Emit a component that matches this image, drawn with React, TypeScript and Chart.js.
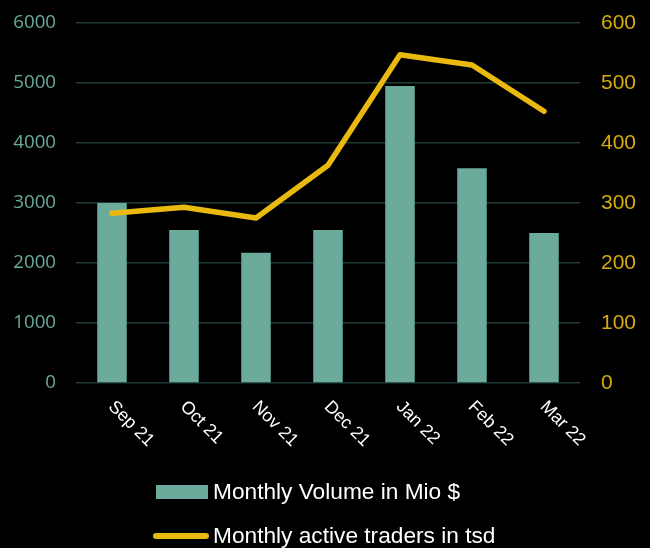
import React, { useEffect, useRef } from 'react';
import { Chart, registerables } from 'chart.js';

Chart.register(...registerables);

const categories = ['Sep 21', 'Oct 21', 'Nov 21', 'Dec 21', 'Jan 22', 'Feb 22', 'Mar 22'];
const volume = [3000, 2550, 2170, 2550, 4950, 3580, 2500];
const traders = [283, 293, 275, 363, 547, 530, 453];
const volumeLabel = 'Monthly Volume in Mio $';
const tradersLabel = 'Monthly active traders in tsd';

const BAR_COLOR = '#6aab9c';
const LINE_COLOR = '#e9b90f';
const GRID_COLOR = '#1f3d35';

const xLabelsPlugin = {
  id: 'xLabelsRotated',
  afterDraw(chart: any) {
    const ctx = chart.ctx;
    const xs = chart.scales.x;
    const bottom = chart.chartArea.bottom;
    ctx.save();
    ctx.font = '17.8px "Liberation Sans", Arial, sans-serif';
    ctx.fillStyle = '#ffffff';
    ctx.textAlign = 'left';
    ctx.textBaseline = 'middle';
    categories.forEach((c, i) => {
      const x = xs.getPixelForValue(i);
      ctx.save();
      ctx.translate(x - 1, bottom + 21);
      ctx.rotate(Math.PI / 4);
      ctx.fillText(c, 0, 0);
      ctx.restore();
    });
    ctx.restore();
  },
};

const legendPlugin = {
  id: 'customLegend',
  afterDraw(chart: any) {
    const ctx = chart.ctx;
    ctx.save();
    ctx.font = '22.7px "Liberation Sans", Arial, sans-serif';
    ctx.fillStyle = '#ffffff';
    ctx.textAlign = 'left';
    ctx.textBaseline = 'middle';
    ctx.fillStyle = BAR_COLOR;
    ctx.fillRect(156, 485, 52, 14);
    ctx.fillStyle = '#ffffff';
    ctx.fillText(volumeLabel, 213, 493);
    ctx.strokeStyle = LINE_COLOR;
    ctx.lineWidth = 6;
    ctx.lineCap = 'round';
    ctx.beginPath();
    ctx.moveTo(156, 536);
    ctx.lineTo(206, 536);
    ctx.stroke();
    ctx.fillText(tradersLabel, 213, 537);
    ctx.restore();
  },
};

export default function App() {
  const ref = useRef<HTMLCanvasElement>(null);
  useEffect(() => {
    if (!ref.current) return;
    const chart = new Chart(ref.current, {
      type: 'bar',
      data: {
        labels: categories,
        datasets: [
          {
            type: 'bar',
            label: volumeLabel,
            data: volume,
            backgroundColor: BAR_COLOR,
            yAxisID: 'y',
            categoryPercentage: 1,
            barPercentage: 0.41,
            order: 1,
          },
          {
            type: 'line',
            label: tradersLabel,
            data: traders,
            borderColor: LINE_COLOR,
            backgroundColor: LINE_COLOR,
            borderWidth: 5.5,
            pointRadius: 0,
            tension: 0,
            borderCapStyle: 'round',
            borderJoinStyle: 'round',
            yAxisID: 'y1',
            order: 0,
          } as any,
        ],
      },
      options: {
        animation: false,
        responsive: false,
        maintainAspectRatio: false,
        layout: { padding: { top: 23, left: 0, right: 0, bottom: 0 } },
        plugins: {
          legend: { display: false },
          tooltip: { enabled: false },
        },
        scales: {
          x: {
            offset: true,
            grid: { display: false },
            border: { display: false },
            ticks: { display: false },
            afterFit: (s: any) => {
              s.height = 165;
            },
          },
          y: {
            position: 'left',
            min: 0,
            max: 6000,
            ticks: {
              stepSize: 1000,
              padding: 20,
              color: BAR_COLOR,
              font: { family: '"Open Sans", sans-serif', size: 18.7 },
              callback: (v: any) => String(v),
            },
            grid: { color: GRID_COLOR, lineWidth: 1.5, drawTicks: false },
            border: { display: false },
            afterFit: (s: any) => {
              s.width = 76;
              s.paddingTop = 0;
              s.paddingBottom = 0;
            },
          },
          y1: {
            position: 'right',
            min: 0,
            max: 600,
            ticks: {
              stepSize: 100,
              padding: 21,
              color: '#d6aa0f',
              font: { family: '"Liberation Sans", sans-serif', size: 21 },
              callback: (v: any) => String(v),
            },
            grid: { display: false, drawTicks: false },
            border: { display: false },
            afterFit: (s: any) => {
              s.width = 70;
              s.paddingTop = 0;
              s.paddingBottom = 0;
            },
          },
        },
      } as any,
      plugins: [xLabelsPlugin, legendPlugin],
    });
    return () => chart.destroy();
  }, []);
  return (
    <div style={{ position: 'fixed', left: 0, top: 0, width: 650, height: 548, background: '#000' }}>
      <canvas ref={ref} width={650} height={548} style={{ display: 'block' }} />
    </div>
  );
}
